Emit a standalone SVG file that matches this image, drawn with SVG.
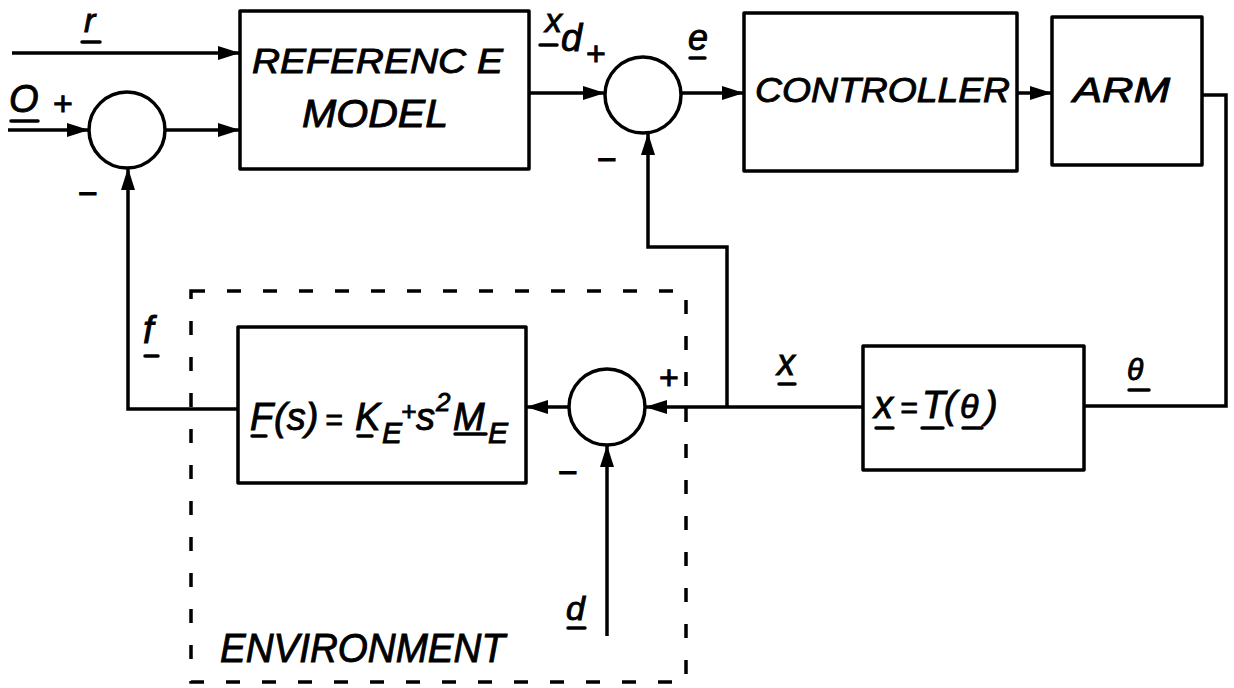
<svg xmlns="http://www.w3.org/2000/svg" width="1234" height="688" viewBox="0 0 1234 688">
<style>
  .box{fill:none;stroke:#000;stroke-width:3.5;stroke-linejoin:round}
  .sum{fill:#fff;stroke:#000;stroke-width:3.5}
  .ln{fill:none;stroke:#000;stroke-width:3.5;stroke-linejoin:miter}
  .arr{marker-end:url(#ah)}
  .dash{fill:none;stroke:#000;stroke-width:3.5;stroke-dasharray:14 22}
  .ul{stroke:#000;stroke-width:3.5;stroke-linecap:round}
  text{font-family:"Liberation Sans","DejaVu Sans",Arial,sans-serif;font-style:italic;fill:#000;stroke:#000;stroke-width:0.9}
  .lbl{font-size:36px}
  .big{font-size:35px}
  .sgn{font-size:34px;font-style:normal}
</style>
<defs>
  <marker id="ah" markerUnits="userSpaceOnUse" markerWidth="24" markerHeight="14" refX="22" refY="7" orient="auto">
    <path d="M0,0 L22,7 L0,14 z" fill="#000"/>
  </marker>
</defs>
<rect width="1234" height="688" fill="#fff"/>

<g id="environment">
  <rect class="dash" x="191" y="291" width="495" height="391"/>
  <text class="big" x="220" y="662" textLength="285" lengthAdjust="spacingAndGlyphs" style="font-size:40px">ENVIRONMENT</text>
</g>

<g id="connectors">
  <path class="ln arr" d="M12,53 H240"/>
  <path class="ln arr" d="M8,130 H89"/>
  <path class="ln arr" d="M165,130 H240"/>
  <path class="ln arr" d="M529,93 H605"/>
  <path class="ln arr" d="M681,93 H744"/>
  <path class="ln arr" d="M1017,93 H1052"/>
  <path class="ln" d="M1202,95 H1226 V406 H1084"/>
  <path class="ln arr" d="M863,407 H645"/>
  <path class="ln arr" d="M727,407 V247 H648 V133"/>
  <path class="ln arr" d="M569,407 H526"/>
  <path class="ln arr" d="M238,409 H128 V168"/>
  <path class="ln arr" d="M607,636 V445"/>
</g>

<g id="sum1">
  <circle class="sum" cx="127" cy="130" r="38"/>
  <text class="sgn" x="53" y="115">+</text>
  <text class="sgn" x="78" y="205">−</text>
</g>

<g id="reference-model">
  <rect class="box" x="240" y="11" width="289" height="158"/>
  <text class="big" x="252" y="73" textLength="251" lengthAdjust="spacingAndGlyphs">REFERENC E</text>
  <text class="big" x="302" y="127" textLength="146" lengthAdjust="spacingAndGlyphs" style="font-size:39px">MODEL</text>
</g>

<g id="sum2">
  <circle class="sum" cx="643" cy="95" r="38"/>
  <text class="sgn" x="586" y="65">+</text>
  <text class="sgn" x="597" y="171">−</text>
</g>

<g id="controller">
  <rect class="box" x="744" y="13" width="273" height="158"/>
  <text class="big" x="755" y="102" textLength="255" lengthAdjust="spacingAndGlyphs">CONTROLLER</text>
</g>

<g id="arm">
  <rect class="box" x="1052" y="17" width="150" height="148"/>
  <text class="big" x="1073" y="102" textLength="97" lengthAdjust="spacingAndGlyphs">ARM</text>
</g>

<g id="kinematics">
  <rect class="box" x="863" y="346" width="221" height="124"/>
  <text style="font-size:38px" y="418"><tspan x="874">x</tspan><tspan x="900" style="font-size:30px">=</tspan><tspan x="922">T</tspan><tspan x="944">(</tspan><tspan x="960" style="font-size:34px">θ</tspan><tspan x="985">)</tspan></text>
  <line class="ul" x1="876" y1="428" x2="893" y2="428"/>
  <line class="ul" x1="922" y1="428" x2="943" y2="428"/>
  <line class="ul" x1="963" y1="428" x2="982" y2="428"/>
</g>

<g id="sum3">
  <circle class="sum" cx="607" cy="407" r="38"/>
  <text class="sgn" x="659" y="389">+</text>
  <text class="sgn" x="558" y="484">−</text>
</g>

<g id="environment-model">
  <rect class="box" x="238" y="327" width="288" height="156"/>
  <text style="font-size:38px" y="430"><tspan x="250">F</tspan><tspan x="274">(s)</tspan><tspan x="325" style="font-size:30px">=</tspan><tspan x="355">K</tspan><tspan x="382" y="443" style="font-size:30px">E</tspan><tspan x="401" y="420" style="font-size:26px">+</tspan><tspan x="416" y="430">s</tspan><tspan x="436" y="411" style="font-size:26px">2</tspan><tspan x="453" y="430">M</tspan><tspan x="488" y="443" style="font-size:30px">E</tspan></text>
  <line class="ul" x1="252" y1="436" x2="266" y2="436"/>
  <line class="ul" x1="358" y1="436" x2="372" y2="436"/>
  <line class="ul" x1="455" y1="434" x2="486" y2="434"/>
</g>

<g id="labels">
  <text class="lbl" x="84" y="32" style="font-size:34px">r</text>
  <line class="ul" x1="82" y1="42" x2="100" y2="42"/>
  <text class="lbl" x="9" y="112" style="font-size:38px">O</text>
  <line class="ul" x1="11" y1="121" x2="38" y2="121"/>
  <text class="lbl" x="545" y="32" style="font-size:34px">x</text>
  <line class="ul" x1="540" y1="45" x2="557" y2="45"/>
  <text class="lbl" x="561" y="51" style="font-size:38px">d</text>
  <text class="lbl" x="688" y="50">e</text>
  <line class="ul" x1="690" y1="58" x2="705" y2="58"/>
  <text class="lbl" x="143" y="343" style="font-size:38px">f</text>
  <line class="ul" x1="145" y1="356" x2="158" y2="356"/>
  <text class="lbl" x="777" y="375">x</text>
  <line class="ul" x1="779" y1="384" x2="795" y2="384"/>
  <text class="lbl" x="1127" y="380" style="font-size:30px">θ</text>
  <line class="ul" x1="1129" y1="390" x2="1149" y2="390"/>
  <text class="lbl" x="566" y="620" style="font-size:34px">d</text>
  <line class="ul" x1="568" y1="628" x2="585" y2="628"/>
</g>
</svg>
